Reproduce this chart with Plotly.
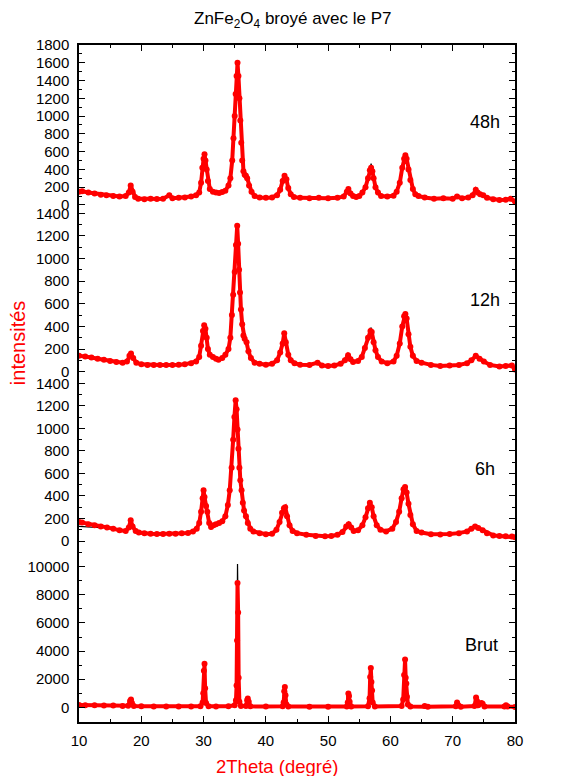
import plotly.graph_objects as go

# ---------------- data ----------------
# 48h
x48 = [10.0, 10.5, 11.5, 12.5, 13.5, 14.4, 15.5, 16.5, 17.5, 18.0, 18.3, 18.6, 19.0, 19.5, 20.5, 21.5, 22.5, 23.5,
       24.5, 25.0, 26.0, 27.0, 28.0, 28.8, 29.3, 29.6, 29.8, 30.0, 30.15, 30.3, 30.5, 30.7, 31.0, 31.5, 32.0, 32.5,
       33.0, 33.5, 34.0, 34.3, 34.6, 34.8, 35.0, 35.15, 35.3, 35.45, 35.6, 35.75, 35.9, 36.05, 36.2, 36.4, 36.6,
       36.8, 37.0, 37.3, 37.7, 38.2, 39.0, 40.0, 41.0, 41.8, 42.3, 42.7, 43.0, 43.3, 43.6, 44.0, 44.5, 45.5, 47.0,
       48.5, 50.0, 51.5, 52.5, 53.0, 53.25, 53.6, 54.0, 54.5, 55.0, 55.5, 56.0, 56.4, 56.7, 56.9, 57.1, 57.3, 57.6,
       58.0, 58.5, 59.5, 60.5, 61.0, 61.5, 61.9, 62.2, 62.4, 62.6, 62.9, 63.2, 63.6, 64.0, 64.5, 65.5, 67.0, 68.5,
       70.0, 70.7, 71.5, 72.5, 73.2, 73.7, 74.0, 74.4, 74.9, 75.5, 76.5, 77.5, 78.5, 79.3, 80.0]
y48 = [150, 155, 140, 130, 115, 110, 100, 95, 100, 140, 220, 150, 90, 70, 65, 70, 68, 70,
       110, 75, 80, 85, 95, 110, 140, 250, 420, 520, 570, 500, 400, 270, 180, 150, 140, 135,
       145, 160, 220, 300, 500, 750, 1000, 1250, 1450, 1600, 1450, 1200, 950, 700, 500, 380, 340,
       330, 300, 220, 150, 100, 85, 80, 85, 110, 170, 270, 330, 290, 190, 120, 90, 80, 75,
       80, 75, 80, 95, 150, 180, 130, 100, 90, 100, 140, 200, 300, 390, 420, 380, 300, 200,
       140, 100, 95, 105, 150, 250, 420, 520, 560, 520, 400, 280, 180, 120, 100, 85, 70, 75,
       70, 95, 75, 85, 110, 170, 140, 120, 110, 80, 65, 55, 60, 70, 40]
# fitted curve (black), only where it shows out of the data points; None = gap
fx48 = [34.8, 35.0, 35.15, 35.3, 35.45, 35.6, 35.75, 35.9, None,
        29.8, 30.0, 30.15, 30.3, 30.5, None,
        56.4, 56.7, 56.9, 57.1, 57.3, None,
        62.2, 62.4, 62.6]
fy48 = [750, 1000, 1230, 1430, 1560, 1430, 1200, 950, None,
        420, 500, 540, 490, 400, None,
        300, 400, 465, 390, 300, None,
        520, 550, 520]

# 12h
x12 = [10.0, 11.0, 12.0, 13.0, 14.0, 15.0, 16.0, 17.0, 17.7, 18.1, 18.35, 18.7, 19.2, 20.0, 21.0, 22.0, 23.0,
       24.0, 25.0, 26.0, 27.0, 28.0, 28.8, 29.3, 29.6, 29.9, 30.1, 30.3, 30.5, 30.7, 31.0, 31.5, 32.0, 32.4,
       33.0, 33.5, 34.0, 34.3, 34.55, 34.75, 35.0, 35.2, 35.4, 35.55, 35.7, 35.85, 36.0, 36.2, 36.4, 36.6, 36.9,
       37.2, 37.6, 38.2, 39.0, 40.0, 41.0, 41.8, 42.3, 42.7, 42.95, 43.2, 43.6, 44.0, 44.6, 45.5, 47.0, 48.3,
       49.0, 50.0, 51.0, 52.0, 52.7, 53.2, 53.6, 54.0, 54.8, 55.4, 55.9, 56.4, 56.8, 57.0, 57.3, 57.6, 58.0,
       58.6, 59.5, 60.5, 61.0, 61.5, 61.9, 62.2, 62.4, 62.6, 62.9, 63.2, 63.6, 64.2, 65.0, 66.5, 68.0, 69.5,
       71.0, 72.3, 73.0, 73.7, 74.3, 75.0, 76.0, 77.5, 78.5, 79.5, 80.0]
y12 = [140, 135, 125, 115, 105, 95, 85, 80, 90, 140, 160, 120, 80, 65, 60, 58, 58,
       60, 58, 62, 65, 75, 90, 130, 230, 360, 410, 380, 300, 200, 150, 130, 115, 105,
       120, 150, 200, 300, 500, 680, 880, 1120, 1290, 1130, 900, 700, 550, 420, 320, 290, 260,
       180, 120, 80, 70, 62, 70, 100, 170, 250, 340, 260, 150, 100, 75, 62, 60, 80,
       55, 50, 55, 70, 100, 145, 110, 85, 95, 130, 210, 300, 360, 350, 260, 190, 130,
       90, 75, 90, 140, 250, 400, 490, 510, 470, 330, 220, 140, 95, 80, 60, 50, 55,
       60, 75, 100, 140, 115, 90, 60, 45, 50, 55, 20]
fx12 = [34.75, 35.0, 35.2, 35.4, 35.55, 35.7, None,
        31.5, 32.0, 32.4, 33.0, None,
        56.4, 56.8, 56.9, 57.0, 57.3, None,
        42.7, 42.95, 43.2]
fy12 = [680, 880, 1100, 1180, 1100, 900, None,
        125, 105, 92, 115, None,
        300, 365, 390, 355, 260, None,
        250, 275, 260]

# 6h
x6 = [10.0, 10.5, 11.5, 12.5, 13.5, 14.5, 15.5, 16.5, 17.5, 18.0, 18.3, 18.6, 19.1, 19.6, 20.5, 21.5, 22.5,
      23.5, 24.5, 25.5, 26.5, 27.5, 28.3, 28.9, 29.3, 29.6, 29.85, 30.0, 30.15, 30.4, 30.6, 30.9, 31.2, 31.6,
      32.0, 32.5, 33.0, 33.5, 33.9, 34.2, 34.5, 34.75, 34.95, 35.15, 35.3, 35.45, 35.6, 35.75, 35.9, 36.1, 36.3,
      36.5, 36.8, 37.1, 37.5, 38.0, 39.0, 40.0, 41.0, 41.7, 42.2, 42.6, 42.9, 43.1, 43.4, 43.8, 44.3, 45.0,
      46.5, 48.0, 49.5, 50.5, 51.5, 52.3, 52.9, 53.3, 53.7, 54.1, 54.8, 55.5, 56.0, 56.4, 56.7, 57.0, 57.3,
      57.8, 58.4, 59.3, 60.3, 60.9, 61.4, 61.8, 62.1, 62.35, 62.6, 62.9, 63.2, 63.6, 64.2, 65.0, 66.5, 68.0,
      69.5, 71.0, 72.3, 73.0, 73.6, 74.1, 74.8, 75.5, 76.5, 77.5, 78.5, 79.5, 80.0]
y6 = [170, 165, 150, 140, 130, 120, 110, 95, 90, 120, 185, 130, 90, 75, 68, 65, 62,
      62, 65, 65, 68, 72, 85, 110, 160, 260, 380, 450, 390, 310, 260, 160, 125, 140,
      150, 160, 175, 220, 320, 450, 650, 900, 1100, 1250, 1170, 990, 820, 650, 540, 450, 340,
      270, 220, 160, 110, 85, 70, 60, 65, 100, 170, 250, 290, 300, 220, 140, 90, 70,
      55, 45, 42, 45, 55, 80, 130, 150, 120, 90, 95, 140, 210, 290, 340, 300, 220,
      140, 100, 85, 110, 170, 260, 380, 460, 480, 430, 330, 230, 150, 90, 75, 60, 58,
      62, 70, 85, 110, 130, 115, 95, 70, 50, 45, 42, 40, 33]
fx6 = [10.0, 11.0, 12.5, 13.5, None,
       34.75, 34.95, 35.15, 35.3, 35.45]
fy6 = [130, 128, 122, 118, None,
       900, 1060, 1100, 1070, 990]

# Brut
xb = [10.0, 11.0, 12.5, 14.0, 15.5, 17.0, 17.9, 18.2, 18.35, 18.5, 18.8, 20.0, 22.0, 24.0, 26.0, 28.0, 29.5,
      29.85, 29.95, 30.05, 30.15, 30.25, 30.4, 30.8, 32.0, 34.0, 35.0, 35.2, 35.3, 35.38, 35.45, 35.55, 35.63,
      35.75, 36.0, 36.8, 37.0, 37.1, 37.25, 37.5, 40.0, 42.7, 42.85, 42.95, 43.05, 43.15, 43.3, 43.6, 47.0,
      50.0, 53.0, 53.15, 53.25, 53.35, 53.45, 53.7, 56.4, 56.65, 56.75, 56.85, 56.95, 57.05, 57.15, 57.5,
      61.8, 62.05, 62.2, 62.35, 62.45, 62.55, 62.65, 62.8, 63.2, 65.5, 66.0, 70.5, 70.7, 70.9, 71.3, 73.5,
      73.75, 73.9, 74.1, 74.6, 74.8, 75.1, 78.3, 78.55, 78.8, 80.0]
yb = [160, 150, 140, 130, 120, 100, 110, 450, 560, 300, 90, 70, 60, 55, 55, 60, 80,
      350, 1000, 2600, 3100, 1350, 300, 80, 60, 70, 150, 500, 1550, 4750, 8850, 6750, 2100,
      400, 100, 90, 500, 620, 400, 70, 50, 70, 350, 1150, 1450, 850, 200, 60, 45,
      45, 60, 350, 980, 800, 400, 60, 80, 650, 2150, 2800, 1800, 1200, 350, 60,
      90, 550, 2300, 3400, 2100, 1700, 750, 200, 60, 90, 45, 80, 350, 150, 40, 90,
      700, 450, 150, 300, 250, 60, 60, 150, 60, 30]
fxb = [35.3, 35.45, 35.55]
fyb = [1550, 10200, 6750]

panel_labels = ["48h", "12h", "6h", "Brut"]
y_ticks = [list(range(0, 1801, 200)), list(range(0, 1401, 200)), list(range(0, 1401, 200)),
           list(range(0, 10001, 2000))]
x_ticks = list(range(10, 81, 10))

# ---------------- figure ----------------
RED = "#ff0000"
FONT = "Liberation Sans, Arial, sans-serif"
fig = go.Figure()

panels = [
    (x48, y48, fx48, fy48, "x2", "y"),
    (x12, y12, fx12, fy12, "x3", "y2"),
    (x6, y6, fx6, fy6, "x4", "y3"),
    (xb, yb, fxb, fyb, "x", "y4"),
]
for xd, yd, fx, fy, xa, ya in panels:
    fig.add_trace(go.Scatter(x=fx, y=fy, mode="lines", line=dict(color="black", width=1.2),
                             connectgaps=False, xaxis=xa, yaxis=ya, showlegend=False, hoverinfo="skip"))
    fig.add_trace(go.Scatter(x=xd, y=yd, mode="lines+markers",
                             line=dict(color=RED, width=4),
                             marker=dict(color=RED, size=6),
                             xaxis=xa, yaxis=ya, showlegend=False))

domains = [[0.7578, 1.0], [0.5081, 0.7578], [0.2570, 0.5081], [0.0, 0.2570]]
ranges = [[-45, 1800], [-56, 1438], [-62, 1447], [-1045, 11330]]
minor_dt = [100, 100, 100, 1000]
anchors = ["x2", "x3", "x4", "x"]
tickfont = dict(family=FONT, size=15, color="black")

# page body has an 8px margin: figure is drawn from (8, 8)
layout = dict(
    width=564, height=768,
    margin=dict(l=71, r=57, t=37, b=54),
    paper_bgcolor="white", plot_bgcolor="white",
    font=dict(family=FONT, color="black"),
    showlegend=False,
)
axkeys = ["yaxis", "yaxis2", "yaxis3", "yaxis4"]
for i, k in enumerate(axkeys):
    layout[k] = dict(
        domain=domains[i], range=ranges[i], anchor=anchors[i],
        tickmode="array", tickvals=y_ticks[i], ticktext=[str(v) for v in y_ticks[i]],
        ticks="inside", ticklen=6, tickwidth=1.3, tickcolor="black",
        minor=dict(ticks="inside", ticklen=3, tickwidth=1.2, tickcolor="black", dtick=minor_dt[i], tick0=0),
        showline=True, linecolor="black", linewidth=1.5, mirror="ticks",
        showgrid=False, zeroline=False, tickfont=tickfont, ticklabelstandoff=5, fixedrange=True,
    )
layout["xaxis"] = dict(
    domain=[0, 1], range=[10, 80], anchor="y4", side="bottom",
    tickmode="array", tickvals=x_ticks, ticktext=[str(v) for v in x_ticks],
    ticks="inside", ticklen=6, tickwidth=1.3, tickcolor="black",
    minor=dict(ticks="inside", ticklen=3, tickwidth=1.2, tickcolor="black", dtick=5, tick0=0),
    showline=True, linecolor="black", linewidth=1.5, mirror=False,
    showgrid=False, zeroline=False, tickfont=tickfont, ticklabelstandoff=4,
)
layout["xaxis2"] = dict(
    domain=[0, 1], range=[10, 80], anchor="y", side="top", matches="x",
    tickmode="array", tickvals=x_ticks, showticklabels=False,
    ticks="inside", ticklen=6, tickwidth=1.3, tickcolor="black",
    minor=dict(ticks="inside", ticklen=3, tickwidth=1.2, tickcolor="black", dtick=5, tick0=0),
    showline=True, linecolor="black", linewidth=1.5, mirror=False,
    showgrid=False, zeroline=False,
)
for k, a in (("xaxis3", "y2"), ("xaxis4", "y3")):
    layout[k] = dict(domain=[0, 1], range=[10, 80], anchor=a, matches="x", visible=False,
                     showgrid=False, zeroline=False)

ann = []
ann.append(dict(text="ZnFe<sub>2</sub>O<sub>4</sub> broyé avec le P7", xref="paper", yref="paper",
                x=0.491, y=1.037, xanchor="center", yanchor="middle", showarrow=False,
                font=dict(family=FONT, size=17, color="black")))
ann.append(dict(text="2Theta (degré)", xref="paper", yref="paper", x=0.454, y=-0.065,
                xanchor="center", yanchor="middle", showarrow=False,
                font=dict(family=FONT, size=18.5, color=RED)))
ann.append(dict(text="intensités", xref="paper", yref="paper", x=-0.14, y=0.561,
                xanchor="center", yanchor="middle", textangle=-90, showarrow=False,
                font=dict(family=FONT, size=20, color=RED)))
label_pos = [(0.931, 0.886), (0.931, 0.623), (0.931, 0.374), (0.924, 0.114)]
for lab, (px, py) in zip(panel_labels, label_pos):
    ann.append(dict(text=lab, xref="paper", yref="paper", x=px, y=py, xanchor="center", yanchor="middle",
                    showarrow=False, font=dict(family=FONT, size=18, color="black")))
layout["annotations"] = ann

fig.update_layout(**layout)
fig.write_html("out.html")
